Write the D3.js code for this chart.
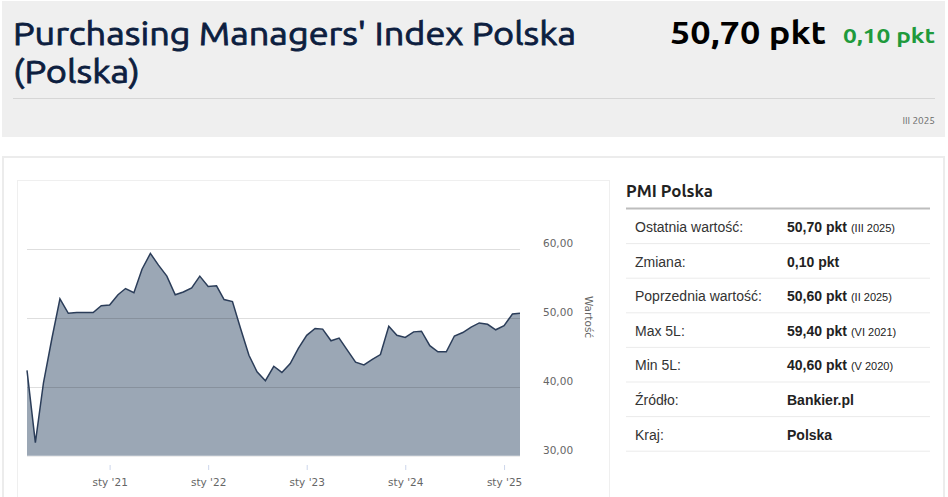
<!DOCTYPE html>
<html>
<head>
<meta charset="utf-8">
<script src="https://cdn.jsdelivr.net/npm/d3@7/dist/d3.min.js"></script>
<style>
  html, body { margin: 0; padding: 0; background: #fff; }
  svg { display: block; }
</style>
</head>
<body>
<svg id="page" width="948" height="497"></svg>
<script>
// PMI Polska, monthly, from III 2020 to III 2025
const firstMonth = new Date(2020, 2, 1);
const lastMonth = new Date(2025, 2, 1);
const pmiValues = [
  42.4, 31.9, 40.6, 47.0, 52.8, 50.7, 50.8, 50.8, 50.8, 51.8,
  51.9, 53.4, 54.3, 53.7, 57.1, 59.4, 57.7, 56.1, 53.4, 53.8, 54.4, 56.1,
  54.6, 54.7, 52.7, 52.4, 48.5, 44.6, 42.2, 40.9, 43.0, 42.1, 43.4, 45.6,
  47.5, 48.5, 48.4, 46.7, 47.1, 45.3, 43.6, 43.2, 44.0, 44.7, 48.8, 47.5,
  47.2, 48.0, 48.1, 46.0, 45.1, 45.1, 47.4, 47.9, 48.7, 49.3, 49.1, 48.3,
  48.9, 50.6, 50.7
];
const yTicks = [30, 40, 50, 60];
const xTickYears = [2021, 2022, 2023, 2024, 2025];

const tableLabels = ["Ostatnia wartość:", "Zmiana:", "Poprzednia wartość:", "Max 5L:", "Min 5L:", "Źródło:", "Kraj:"];
const tableValues = ["50,70 pkt", "0,10 pkt", "50,60 pkt", "59,40 pkt", "40,60 pkt", "Bankier.pl", "Polska"];
const tableNotes = ["(III 2025)", "", "(II 2025)", "(VI 2021)", "(V 2020)", "", ""];

const months = d3.timeMonth.range(firstMonth, d3.timeMonth.offset(lastMonth, 1));
const series = months.map((d, i) => ({ date: d, value: pmiValues[i] }));

const svg = d3.select("#page");
const headFont = "Ubuntu, 'Open Sans', 'Noto Sans', sans-serif";
const chartFont = "'DejaVu Sans', Verdana, sans-serif";
const tableFont = "'Liberation Sans', Arial, sans-serif";

// header box
svg.append("rect").attr("x", 2).attr("y", 1).attr("width", 943).attr("height", 136).attr("fill", "#efefef");
svg.append("text").attr("x", 13).attr("y", 45)
  .attr("font-family", headFont).attr("font-size", 32).attr("fill", "#0d1e3f")
  .attr("stroke", "#0d1e3f").attr("stroke-width", 0.8)
  .attr("textLength", 563).attr("lengthAdjust", "spacingAndGlyphs")
  .text("Purchasing Managers' Index Polska");
svg.append("text").attr("x", 13).attr("y", 83)
  .attr("font-family", headFont).attr("font-size", 32).attr("fill", "#0d1e3f")
  .attr("stroke", "#0d1e3f").attr("stroke-width", 0.8)
  .attr("textLength", 127).attr("lengthAdjust", "spacingAndGlyphs")
  .text("(Polska)");
svg.append("text").attr("x", 670).attr("y", 44)
  .attr("font-family", headFont).attr("font-size", 32).attr("font-weight", "bold").attr("fill", "#000")
  .attr("textLength", 156).attr("lengthAdjust", "spacingAndGlyphs")
  .text("50,70 pkt");
svg.append("text").attr("x", 843).attr("y", 43)
  .attr("font-family", headFont).attr("font-size", 21).attr("font-weight", "bold").attr("fill", "#1f9a3c")
  .attr("textLength", 92).attr("lengthAdjust", "spacingAndGlyphs")
  .text("0,10 pkt");
svg.append("line").attr("x1", 13).attr("x2", 935).attr("y1", 98.5).attr("y2", 98.5)
  .attr("stroke", "#d6d6d6").attr("stroke-width", 1);
svg.append("text").attr("x", 935).attr("y", 124).attr("text-anchor", "end")
  .attr("font-family", headFont).attr("font-size", 10).attr("fill", "#666")
  .text("III 2025");

// outer white box and chart panel
svg.append("rect").attr("x", 3).attr("y", 157).attr("width", 941).attr("height", 345)
  .attr("fill", "#fff").attr("stroke", "#ececec").attr("stroke-width", 2);
svg.append("rect").attr("x", 17.5).attr("y", 180.5).attr("width", 592).attr("height", 330)
  .attr("fill", "#fff").attr("stroke", "#efefef").attr("stroke-width", 1);

// chart
const x = d3.scaleTime().domain([firstMonth, lastMonth]).range([27, 520]);
const y = d3.scaleLinear().domain([30, 60]).range([455.7, 249.3]);

const area = d3.area()
  .x(d => x(d.date)).y0(y(30)).y1(d => y(d.value));
const line = d3.line()
  .x(d => x(d.date)).y(d => y(d.value));

svg.append("path").datum(series).attr("d", area).attr("fill", "#9ba7b5");

const grid = svg.append("g");
grid.selectAll("line").data(yTicks).join("line")
  .attr("x1", 27).attr("x2", 520)
  .attr("y1", d => Math.round(y(d)) + 0.5).attr("y2", d => Math.round(y(d)) + 0.5)
  .attr("stroke", d => d === 30 ? "rgba(0,0,0,0.07)" : "rgba(0,0,0,0.13)").attr("stroke-width", 1);

svg.append("path").datum(series).attr("d", line)
  .attr("fill", "none").attr("stroke", "#2b3d59").attr("stroke-width", 1.5);

const yAxis = d3.axisRight(y).tickValues(yTicks).tickSize(0)
  .tickFormat(d => d3.format(".2f")(d).replace(".", ","));
svg.append("g").attr("transform", "translate(543,-6)").call(yAxis)
  .call(g => g.select(".domain").remove())
  .call(g => g.selectAll("text").attr("x", 0).attr("font-family", chartFont).attr("font-size", 10.5).attr("fill", "#666"));

const xAxis = d3.axisBottom(x).tickValues(xTickYears.map(yr => new Date(yr, 0, 1)))
  .tickSize(5).tickPadding(9)
  .tickFormat(d => "sty '" + String(d.getFullYear()).slice(2));
svg.append("g").attr("transform", "translate(0,465)").call(xAxis)
  .call(g => g.select(".domain").remove())
  .call(g => g.selectAll("line").attr("stroke", "#ccd6eb"))
  .call(g => g.selectAll("text").attr("font-family", chartFont).attr("font-size", 10.5).attr("fill", "#666"));

svg.append("text").attr("transform", "translate(585,317) rotate(90)")
  .attr("text-anchor", "middle").attr("font-family", chartFont).attr("font-size", 10.5).attr("fill", "#666")
  .text("Wartość");

// side table
svg.append("text").attr("x", 626).attr("y", 197)
  .attr("font-family", headFont).attr("font-size", 17).attr("font-weight", "bold").attr("fill", "#222")
  .attr("textLength", 87).attr("lengthAdjust", "spacingAndGlyphs")
  .text("PMI Polska");
svg.append("line").attr("x1", 626).attr("x2", 930).attr("y1", 208.5).attr("y2", 208.5)
  .attr("stroke", "#bdbdbd").attr("stroke-width", 2);

const rowH = 34.6;
const rows = svg.append("g").selectAll("g").data(tableLabels).join("g")
  .attr("transform", (d, i) => `translate(0,${209 + i * rowH})`);
rows.append("line").attr("x1", 626).attr("x2", 930).attr("y1", rowH).attr("y2", rowH)
  .attr("stroke", "#ebebeb").attr("stroke-width", 1);
rows.append("text").attr("x", 635).attr("y", 23)
  .attr("font-family", tableFont).attr("font-size", 14).attr("fill", "#333")
  .text(d => d);
const vals = rows.append("text").attr("x", 787).attr("y", 23)
  .attr("font-family", tableFont).attr("fill", "#222");
vals.append("tspan").attr("font-size", 14).attr("font-weight", "bold").text((d, i) => tableValues[i]);
vals.append("tspan").attr("font-size", 11).attr("dx", 4).text((d, i) => tableNotes[i]);
</script>
</body>
</html>
